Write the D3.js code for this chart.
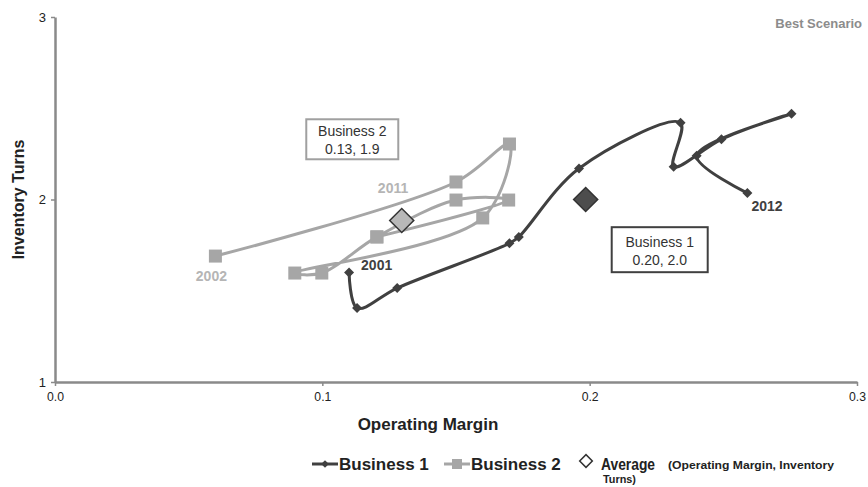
<!DOCTYPE html>
<html>
<head>
<meta charset="utf-8">
<script src="https://cdn.jsdelivr.net/npm/d3@7"></script>
<style>
  body { margin: 0; background: #fff; }
  svg { display: block; font-family: "Liberation Sans", Arial, sans-serif; }
</style>
</head>
<body>
<div class="chart"></div>
<script>
// values
var b1Margin = [0.110, 0.113, 0.128, 0.170, 0.1735, 0.196, 0.234, 0.2314, 0.2493, 0.2755, 0.240, 0.259];
var b1Turns  = [1.60, 1.405, 1.515, 1.76, 1.795, 2.17, 2.42, 2.18, 2.33, 2.47, 2.24, 2.035];
var b2Margin = [0.060, 0.150, 0.170, 0.160, 0.0897, 0.0998, 0.1204, 0.150, 0.1697, 0.1204];
var b2Turns  = [1.69, 2.096, 2.304, 1.899, 1.597, 1.597, 1.795, 1.997, 1.997, 1.795];
var averages = [
  {name: "Business 1", margin: 0.1985, turns: 2.0, label: "0.20, 2.0"},
  {name: "Business 2", margin: 0.1297, turns: 1.885, label: "0.13, 1.9"}
];
var xTicks = [0.0, 0.1, 0.2, 0.3];
var yTicks = [1, 2, 3];

var svgWidth = 868, svgHeight = 487;
var margin = {top: 17, right: 11, bottom: 105, left: 55};

var dark = "#404040", light = "#a6a6a6";

var svg = d3.select(".chart").append("svg")
  .attr("width", svgWidth)
  .attr("height", svgHeight);

var x = d3.scaleLinear().domain([0, 0.3]).range([margin.left, svgWidth - margin.right]);
var y = d3.scaleLinear().domain([1, 3]).range([svgHeight - margin.bottom, margin.top]);

var b1 = b1Margin.map((m, i) => ({m: m, t: b1Turns[i]}));
var b2 = b2Margin.map((m, i) => ({m: m, t: b2Turns[i]}));

// axes
var xAxis = d3.axisBottom(x).tickValues(xTicks).tickFormat(d3.format(".1f")).tickSize(4).tickSizeOuter(0);
var yAxis = d3.axisLeft(y).tickValues(yTicks).tickFormat(d3.format("d")).tickSize(4).tickSizeOuter(0);

var gx = svg.append("g").attr("transform", `translate(0, ${y(1)})`).call(xAxis);
var gy = svg.append("g").attr("transform", `translate(${x(0)}, 0)`).call(yAxis);

[gx, gy].forEach(g => {
  g.select(".domain").attr("stroke", "#8a8a8a").attr("stroke-width", 2.5);
  g.selectAll(".tick line").attr("stroke", "#8a8a8a").attr("stroke-width", 1.5);
  g.selectAll(".tick text")
    .attr("fill", "#222")
    .style("font-size", "13px")
    .attr("textLength", d => d >= 0 && d < 1 ? 17 : null)
    .attr("lengthAdjust", "spacingAndGlyphs");
});
gx.selectAll(".tick text").attr("dy", "0.95em");
gy.selectAll(".tick text").attr("dx", "-2");

// axis titles
svg.append("text")
  .attr("x", 428)
  .attr("y", 430)
  .attr("text-anchor", "middle")
  .style("font-size", "17px").style("font-weight", "bold").attr("fill", "#222")
  .text("Operating Margin");

svg.append("text")
  .attr("transform", `translate(24, ${y(2)}) rotate(-90)`)
  .attr("text-anchor", "middle")
  .style("font-size", "16px").style("font-weight", "bold").attr("fill", "#222")
  .text("Inventory Turns");

svg.append("text")
  .attr("x", 862).attr("y", 28)
  .attr("text-anchor", "end")
  .style("font-size", "13px").style("font-weight", "bold").attr("fill", "#8c8c8c")
  .text("Best Scenario");

// smoothed lines like the spreadsheet
var line = d3.line()
  .x(d => x(d.m))
  .y(d => y(d.t))
  .curve(d3.curveCatmullRom.alpha(0.5));

svg.append("path").datum(b2)
  .attr("d", line).attr("fill", "none")
  .attr("stroke", light).attr("stroke-width", 3);

svg.selectAll(".sq").data(b2).enter().append("rect")
  .attr("x", d => x(d.m) - 6.5).attr("y", d => y(d.t) - 6.5)
  .attr("width", 13).attr("height", 13)
  .attr("fill", light);

svg.append("path").datum(b1)
  .attr("d", line).attr("fill", "none")
  .attr("stroke", dark).attr("stroke-width", 3);

var diamond = d3.symbol().type(d3.symbolSquare);
svg.selectAll(".dm").data(b1).enter().append("path")
  .attr("d", diamond.size(50)())
  .attr("transform", d => `translate(${x(d.m)}, ${y(d.t)}) rotate(45)`)
  .attr("fill", dark);

// average markers
svg.selectAll(".avg").data(averages).enter().append("path")
  .attr("d", d3.symbol().type(d3.symbolSquare).size(290)())
  .attr("transform", d => `translate(${x(d.margin)}, ${y(d.turns)}) rotate(45)`)
  .attr("fill", (d, i) => i === 0 ? "#4d4d4d" : "#b8b8b8")
  .attr("stroke", "#333").attr("stroke-width", 1.5);

// year labels
var yearLabels = [
  {text: "2001", m: b1Margin[0], t: b1Turns[0], dx: 12, dy: -3, color: dark},
  {text: "2012", m: b1Margin[11], t: b1Turns[11], dx: 4, dy: 18, color: dark},
  {text: "2002", m: b2Margin[0], t: b2Turns[0], dx: -4, dy: 25, color: "#b5b5b5", anchor: "middle"},
  {text: "2011", m: b2Margin[6], t: b2Turns[6], dx: 1, dy: -44, color: "#b5b5b5"}
];
svg.selectAll(".yr").data(yearLabels).enter().append("text")
  .attr("x", d => x(d.m) + d.dx).attr("y", d => y(d.t) + d.dy)
  .attr("text-anchor", d => d.anchor || "start")
  .style("font-size", "14px").style("font-weight", "bold")
  .attr("fill", d => d.color)
  .text(d => d.text);

// annotation boxes
var boxes = [
  {cx: 0.1112, cy: 2.33, w: 92, h: 40, stroke: "#a0a0a0", lines: ["Business 2", averages[1].label]},
  {cx: 0.2262, cy: 1.725, w: 96, h: 45, stroke: dark, lines: ["Business 1", averages[0].label]}
];
boxes.forEach(b => {
  var g = svg.append("g").attr("transform", `translate(${x(b.cx)}, ${y(b.cy)})`);
  g.append("rect")
    .attr("x", -b.w / 2).attr("y", -b.h / 2)
    .attr("width", b.w).attr("height", b.h)
    .attr("fill", "#fff").attr("stroke", b.stroke).attr("stroke-width", 2);
  g.selectAll("text").data(b.lines).enter().append("text")
    .attr("x", 0).attr("y", (d, i) => -3 + i * 18)
    .attr("text-anchor", "middle")
    .style("font-size", "14px").attr("fill", "#333")
    .text(d => d);
});

// legend
var legend = svg.append("g").attr("transform", "translate(0, 464)");

function legendLine(x0, color, marker) {
  legend.append("line").attr("x1", x0).attr("x2", x0 + 26).attr("y1", 0).attr("y2", 0)
    .attr("stroke", color).attr("stroke-width", 3);
  if (marker === "diamond") {
    legend.append("path").attr("d", d3.symbol().type(d3.symbolSquare).size(30)())
      .attr("transform", `translate(${x0 + 13}, 0) rotate(45)`).attr("fill", color);
  } else {
    legend.append("rect").attr("x", x0 + 8).attr("y", -5).attr("width", 10).attr("height", 10)
      .attr("fill", color);
  }
}
legendLine(312, dark, "diamond");
legend.append("text").attr("x", 339).attr("y", 6)
  .style("font-size", "17px").style("font-weight", "bold").attr("fill", "#222").text("Business 1");
legendLine(444, light, "square");
legend.append("text").attr("x", 471).attr("y", 6)
  .style("font-size", "17px").style("font-weight", "bold").attr("fill", "#222").text("Business 2");

legend.append("path").attr("d", d3.symbol().type(d3.symbolSquare).size(80)())
  .attr("transform", "translate(586, -3) rotate(45)")
  .attr("fill", "#fff").attr("stroke", "#333").attr("stroke-width", 1.5);
legend.append("text").attr("x", 601).attr("y", 6)
  .attr("textLength", 54).attr("lengthAdjust", "spacingAndGlyphs")
  .style("font-size", "17px").style("font-weight", "bold").attr("fill", "#222").text("Average");
legend.append("text").attr("x", 668).attr("y", 5)
  .attr("textLength", 166).attr("lengthAdjust", "spacingAndGlyphs")
  .style("font-size", "10px").style("font-weight", "bold").attr("fill", "#222")
  .text("(Operating Margin, Inventory");
legend.append("text").attr("x", 603).attr("y", 19)
  .attr("textLength", 33).attr("lengthAdjust", "spacingAndGlyphs")
  .style("font-size", "10px").style("font-weight", "bold").attr("fill", "#222").text("Turns)");
</script>
</body>
</html>
